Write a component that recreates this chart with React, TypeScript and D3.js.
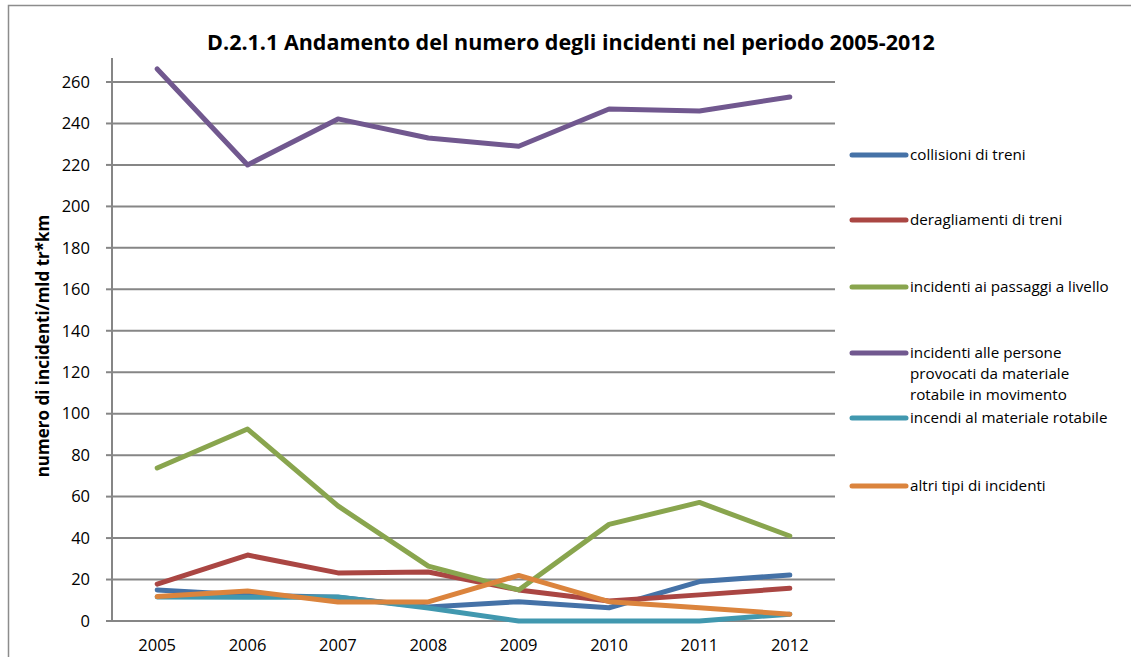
import React from "react";
import * as d3 from "d3";

const years = ["2005", "2006", "2007", "2008", "2009", "2010", "2011", "2012"];
const collisioni = [15, 12.5, 11.5, 6.8, 9.3, 6.4, 19, 22.2];
const deragliamenti = [17.8, 31.8, 23.2, 23.6, 15, 9.6, 12.6, 15.8];
const passaggi = [73.8, 92.6, 55.5, 26.5, 15, 46.6, 57.2, 41];
const persone = [266.3, 220, 242.2, 233, 229, 247, 246, 252.8];
const incendi = [11.6, 11.4, 11.6, 6.3, 0, 0, 0, 3.3];
const altri = [11.8, 14.5, 9.2, 9.2, 22, 9.3, 6.4, 3.3];
const yTicks = [0, 20, 40, 60, 80, 100, 120, 140, 160, 180, 200, 220, 240, 260];

const seriesNames = [
  ["collisioni di treni"],
  ["deragliamenti di treni"],
  ["incidenti ai passaggi a livello"],
  ["incidenti alle persone", "provocati da materiale", "rotabile in movimento"],
  ["incendi al materiale rotabile"],
  ["altri tipi di incidenti"],
];
const seriesValues = [collisioni, deragliamenti, passaggi, persone, incendi, altri];
const colors = ["#4572A7", "#AA4643", "#89A54E", "#71588F", "#4198AF", "#DB843D"];
const legendY = [155, 220, 287, 353, 418, 486];

const W = 1131;
const H = 657;
const font = "'Open Sans', 'Noto Sans', sans-serif";

export default function App() {
  const x = d3.scalePoint<string>().domain(years).range([112, 835]).padding(0.5);
  const y = d3.scaleLinear().domain([0, 260]).range([621, 82]);
  const line = d3
    .line<number>()
    .x((_, i) => x(years[i]) as number)
    .y((v) => y(v));

  return (
    <svg
      width={W}
      height={H}
      style={{ position: "absolute", left: 0, top: 0, background: "#fff" }}
    >
      <rect x={8.5} y={5.5} width={1140} height={700} fill="#fff" stroke="#8c8c8c" strokeWidth={1.5} />
      <text
        x={571}
        y={50}
        textAnchor="middle"
        fontFamily={font}
        fontWeight="bold"
        fontSize={21.5}
        fill="#000"
      >
        D.2.1.1 Andamento del numero degli incidenti nel periodo 2005-2012
      </text>
      {yTicks.map((t) => (
        <g key={t}>
          {t > 0 && (
            <line x1={112} x2={835} y1={y(t)} y2={y(t)} stroke="#868686" strokeWidth={2} />
          )}
          <line x1={106} x2={112} y1={y(t)} y2={y(t)} stroke="#868686" strokeWidth={2} />
          <text
            x={90}
            y={y(t)}
            dy="0.35em"
            textAnchor="end"
            fontFamily={font}
            fontSize={16.5}
            fill="#000"
          >
            {t}
          </text>
        </g>
      ))}
      <line x1={112} x2={112} y1={58} y2={622} stroke="#868686" strokeWidth={2} />
      <line x1={111} x2={835} y1={621} y2={621} stroke="#868686" strokeWidth={2} />
      {years.map((yr) => (
        <text
          key={yr}
          x={x(yr) as number}
          y={645}
          dy="0.35em"
          textAnchor="middle"
          fontFamily={font}
          fontSize={16.5}
          fill="#000"
        >
          {yr}
        </text>
      ))}
      <text
        transform={`translate(43,346) rotate(-90)`}
        textAnchor="middle"
        dy="0.35em"
        fontFamily={font}
        fontWeight="bold"
        fontSize={17}
        fill="#000"
      >
        numero di incidenti/mld tr*km
      </text>
      {seriesValues.map((vals, i) => (
        <path
          key={i}
          d={line(vals) || ""}
          fill="none"
          stroke={colors[i]}
          strokeWidth={5}
          strokeLinejoin="round"
          strokeLinecap="round"
        />
      ))}
      {seriesNames.map((names, i) => (
        <g key={i}>
          <line
            x1={852}
            x2={906}
            y1={legendY[i]}
            y2={legendY[i]}
            stroke={colors[i]}
            strokeWidth={5}
            strokeLinecap="round"
          />
          {names.map((n, j) => (
            <text
              key={j}
              x={910}
              y={legendY[i] + j * 21}
              dy="0.35em"
              fontFamily={font}
              fontSize={15.2}
              fill="#000"
            >
              {n}
            </text>
          ))}
        </g>
      ))}
    </svg>
  );
}
